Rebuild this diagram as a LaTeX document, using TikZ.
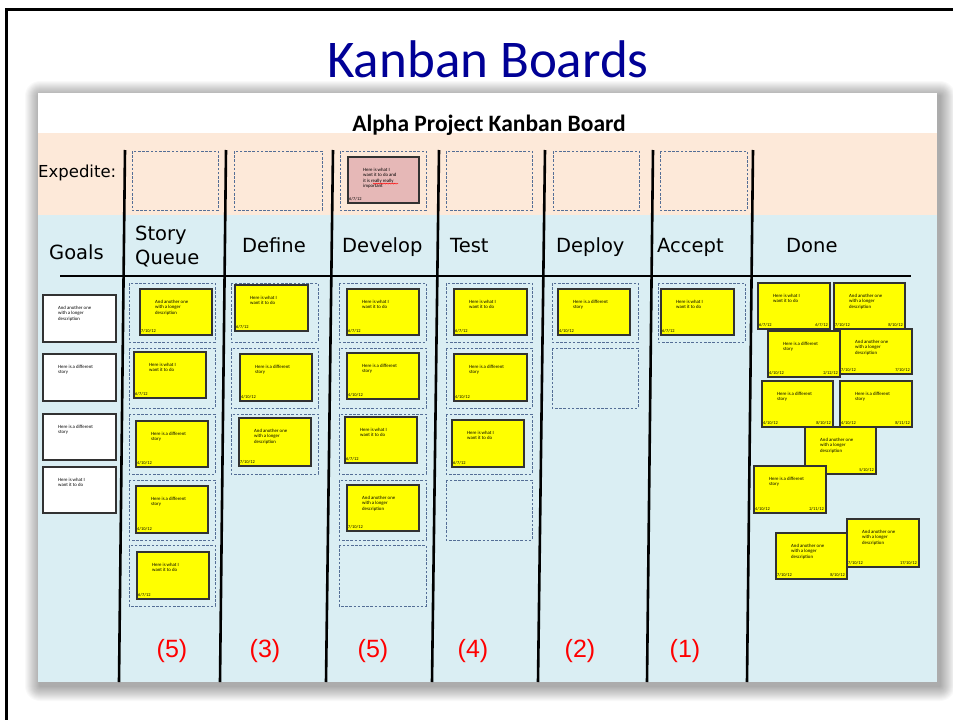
\documentclass[tikz,border=0pt]{standalone}
\usepackage{fontspec}
\setmainfont{Carlito}
\newfontfamily\handfont{DejaVu Sans}
\newfontfamily\numfont{Liberation Sans}
\usetikzlibrary{decorations.pathmorphing}

\definecolor{titleblue}{RGB}{0,0,150}
\definecolor{expeditebg}{RGB}{253,233,217}
\definecolor{boardbg}{RGB}{218,238,243}
\definecolor{slotline}{RGB}{84,110,150}
\definecolor{noteyellow}{RGB}{255,255,0}
\definecolor{notepink}{RGB}{230,184,183}
\definecolor{noteedge}{RGB}{50,50,50}

\tikzset{
  colline/.style={line width=2.6pt, black},
  slotbox/.style={draw=slotline, line width=0.8pt, dash pattern=on 2.6pt off 1.6pt},
  notebox/.style={draw=noteedge, line width=1.1pt},
  notetext/.style={font=\fontsize{4.8}{5.4}\selectfont, align=left, inner sep=0pt},
  datetext/.style={font=\fontsize{4.4}{5}\selectfont, inner sep=0pt},
  heading/.style={font=\handfont\fontsize{19.5}{22}\selectfont, inner sep=0pt, anchor=base west},
  wiplimit/.style={font=\numfont\fontsize{25}{28}\selectfont, text=red, inner sep=0pt},
}

% sticky note: [fill]{name}{x1}{y1}{x2}{y2}{text}{start date}{end date}
\newcommand\kcard[9][noteyellow]{%
  \fill[black, opacity=0.22] (#3+1.3,#4+1.3) rectangle (#5+1.3,#6+1.3);
  \path[notebox, fill=#1] (#3,#4) coordinate (#2-nw) rectangle (#5,#6) coordinate (#2-se);
  \node[notetext, anchor=north west] (#2-txt) at (#3+15,#4+11) {#7};
  \node[datetext, anchor=south west] (#2-ld) at (#3+1,#6-2) {#8};
  \node[datetext, anchor=south east] (#2-rd) at (#5-2,#6-2) {#9};
}
\newcommand\slot[4]{\draw[slotbox] (#1,#2) rectangle (#3,#4);}

\def\WHAT{Here is what I\\want it to do}
\def\DIFF{Here is a different\\story}
\def\LONG{And another one\\with a longer\\description}

\begin{document}
\begin{tikzpicture}[x=1pt, y=-1pt]
\useasboundingbox (0,0) rectangle (953,720);
\fill[white] (0,0) rectangle (953,720);

% slide frame
\draw[line width=3pt] (6.5,722) -- (6.5,9) -- (955,9);

% slide title
\node[font=\fontsize{53}{60}\selectfont, text=titleblue, anchor=base, inner sep=0pt] (slidetitle) at (488,77) {Kanban Boards};

% soft shadow under the board
\foreach \i in {1,...,15}
  \fill[black, opacity=0.022, rounded corners=\i pt] (38-\i+2,93-\i+3) rectangle (937+\i+3,682+\i+4);

% board background bands
\fill[white] (38,93) rectangle (937,133);
\fill[expeditebg] (38,133) rectangle (937,215);
\fill[boardbg] (38,215) rectangle (937,682);

\node[font=\bfseries\fontsize{23.5}{26}\selectfont, anchor=base, inner sep=0pt] (boardtitle) at (489,131) {Alpha Project Kanban Board};

% expedite lane
\node[font=\handfont\fontsize{16.5}{19}\selectfont, anchor=base west, inner sep=0pt] (expedite) at (38,177) {Expedite:};
\slot{132}{151}{218}{210}
\slot{234}{151}{322}{210}
\slot{340}{151}{426}{210}
\slot{446}{151}{532}{210}
\slot{553}{151}{639}{210}
\slot{660}{151}{747}{210}
\kcard[notepink]{ex1}{348}{157}{419}{203}{Here is what I\\want it to do and\\it is really really\\important}{6/7/12}{}
% spell-check underline below "really really"
\draw[red, line width=0.35pt, decorate, decoration={snake, amplitude=0.45pt, segment length=1.6pt}] (373,183.6) -- (398,183.6);

% column separators
\draw[colline] (125,150) -- (119,682);
\draw[colline] (226,150) -- (220,682);
\draw[colline] (333,150) -- (326,682);
\draw[colline] (439,150) -- (432,682);
\draw[colline] (545,150) -- (538,682);
\draw[colline] (653,150) -- (647,682);
\draw[colline] (753,150) -- (747,682);
\draw[colline] (60,276) -- (911,276);

% column headings
\node[heading] (hgoals) at (49,259) {Goals};
\node[heading] (hstory) at (135,240) {Story};
\node[heading] (hqueue) at (135,264) {Queue};
\node[heading] (hdefine) at (242,252) {Define};
\node[heading] (hdevelop) at (342,252) {Develop};
\node[heading] (htest) at (450,252) {Test};
\node[heading] (hdeploy) at (556,252) {Deploy};
\node[heading] (haccept) at (657,252) {Accept};
\node[heading] (hdone) at (786,252) {Done};

% goals
\kcard[white]{g1}{43}{295}{116}{342}{\LONG}{}{}
\kcard[white]{g2}{43}{354}{116}{401}{\DIFF}{}{}
\kcard[white]{g3}{43}{414}{116}{460}{\DIFF}{}{}
\kcard[white]{g4}{43}{467}{116}{513}{\WHAT}{}{}

% story queue
\slot{129}{283}{215}{342}
\slot{129}{348}{215}{408}
\slot{129}{414}{215}{474}
\slot{129}{480}{215}{540}
\slot{129}{545}{215}{606}
\kcard{sq1}{140}{289}{212}{335}{\LONG}{7/10/12}{}
\kcard{sq2}{134}{352}{206}{398}{\WHAT}{6/7/12}{}
\kcard{sq3}{136}{421}{208}{467}{\DIFF}{4/10/12}{}
\kcard{sq4}{136}{486}{208}{533}{\DIFF}{4/10/12}{}
\kcard{sq5}{137}{552}{209}{599}{\WHAT}{6/7/12}{}

% define
\slot{231}{283}{318}{342}
\slot{231}{348}{318}{408}
\slot{231}{414}{318}{474}
\kcard{df1}{235}{285}{308}{331}{\WHAT}{6/7/12}{}
\kcard{df2}{240}{354}{312}{401}{\DIFF}{4/10/12}{}
\kcard{df3}{239}{418}{311}{466}{\LONG}{7/10/12}{}

% develop
\slot{339}{283}{426}{342}
\slot{339}{348}{426}{408}
\slot{339}{414}{426}{474}
\slot{339}{480}{426}{540}
\slot{339}{545}{426}{606}
\kcard{dv1}{347}{289}{419}{335}{\WHAT}{6/7/12}{}
\kcard{dv2}{347}{353}{419}{399}{\DIFF}{4/10/12}{}
\kcard{dv3}{345}{417}{417}{463}{\WHAT}{6/7/12}{}
\kcard{dv4}{347}{485}{419}{531}{\LONG}{7/10/12}{}

% test
\slot{446}{283}{532}{342}
\slot{446}{348}{532}{408}
\slot{446}{414}{532}{474}
\slot{446}{480}{532}{540}
\kcard{ts1}{454}{289}{527}{335}{\WHAT}{6/7/12}{}
\kcard{ts2}{454}{354}{527}{401}{\DIFF}{4/10/12}{}
\kcard{ts3}{452}{420}{524}{467}{\WHAT}{6/7/12}{}

% deploy
\slot{552}{283}{638}{342}
\slot{552}{348}{638}{408}
\kcard{dp1}{558}{289}{630}{335}{\DIFF}{4/10/12}{}

% accept
\slot{658}{283}{745}{342}
\kcard{ac1}{661}{289}{734}{335}{\WHAT}{6/7/12}{}

% done
\kcard{dn1}{758}{283}{830}{329}{\WHAT}{6/7/12}{6/7/12}
\kcard{dn2}{834}{283}{905}{329}{\LONG}{7/10/12}{8/10/12}
\kcard{dn3}{768}{331}{840}{377}{\DIFF}{4/10/12}{2/12/12}
\kcard{dn4}{840}{329}{912}{374}{\LONG}{7/10/12}{7/10/12}
\kcard{dn5}{762}{381}{833}{427}{\DIFF}{4/10/12}{8/10/12}
\kcard{dn6}{840}{381}{912}{427}{\DIFF}{4/10/12}{8/11/12}
\kcard{dn7}{805}{427}{876}{474}{\LONG}{}{5/10/12}
\kcard{dn8}{754}{466}{826}{513}{\DIFF}{4/10/12}{2/11/12}
\kcard{dn10}{847}{519}{919}{567}{\LONG}{7/10/12}{17/10/12}
\kcard{dn9}{776}{533}{847}{579}{\LONG}{7/10/12}{8/10/12}

% WIP limits
\node[wiplimit] (wsq) at (172,651) {(5)};
\node[wiplimit] (wdf) at (265,651) {(3)};
\node[wiplimit] (wdv) at (373,651) {(5)};
\node[wiplimit] (wts) at (473,651) {(4)};
\node[wiplimit] (wdp) at (580,651) {(2)};
\node[wiplimit] (wac) at (685,651) {(1)};
\end{tikzpicture}
\end{document}
